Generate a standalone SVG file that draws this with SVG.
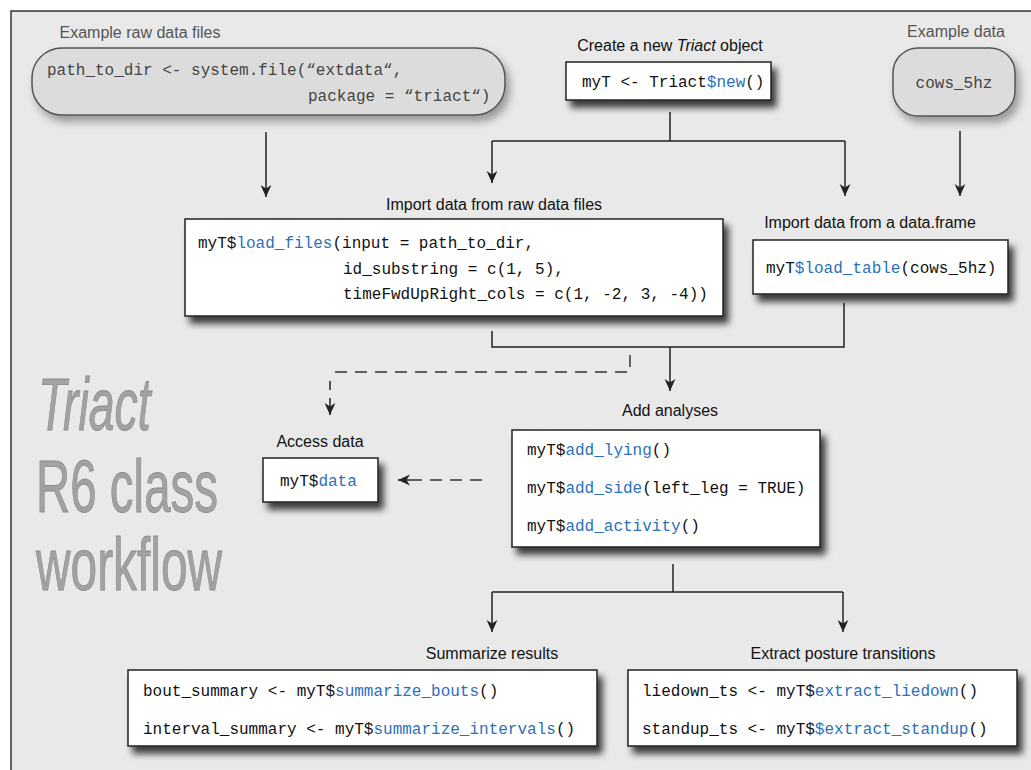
<svg xmlns="http://www.w3.org/2000/svg" width="1031" height="770" viewBox="0 0 1031 770">
<defs>
<style>
.lbl{font-family:"Liberation Sans",Arial,sans-serif;font-size:16px;fill:#111;text-anchor:middle}
.glbl{font-family:"Liberation Sans",Arial,sans-serif;font-size:16px;fill:#555;text-anchor:middle}
.code{font-family:"Liberation Mono","DejaVu Sans Mono",monospace;font-size:16px;fill:#111}
.gcode{font-family:"Liberation Mono","DejaVu Sans Mono",monospace;font-size:16px;fill:#444}
.fn{fill:#2b6fbd}
.box{fill:#fff;stroke:#222;stroke-width:1.5;filter:url(#sh)}
.rbox{fill:#dcdcdc;stroke:#555;stroke-width:1.5;filter:url(#sh2)}
.ln{fill:none;stroke:#222;stroke-width:1.5}
.dl{fill:none;stroke:#333;stroke-width:1.5;stroke-dasharray:12 8}
.big{font-family:"Liberation Sans",Arial,sans-serif;font-size:75px;fill:#a2a2a2;stroke:#8a8a8a;stroke-width:0.8}
</style>
<filter id="sh" x="-10%" y="-20%" width="130%" height="160%">
<feDropShadow dx="5" dy="7" stdDeviation="3.5" flood-color="#000" flood-opacity="0.75"/>
</filter>
<filter id="sh2" x="-10%" y="-20%" width="130%" height="160%">
<feDropShadow dx="4" dy="6" stdDeviation="4" flood-color="#000" flood-opacity="0.35"/>
</filter>
<marker id="ahs" viewBox="0 0 10 10" refX="10" refY="5" markerWidth="12" markerHeight="12" markerUnits="userSpaceOnUse" orient="auto">
<path d="M0,0.5 L10,5 L0,9.5 L3,5 Z" fill="#222"/>
</marker>
</defs>
<rect x="11" y="11" width="1040" height="780" fill="#e9e9e9" stroke="#333" stroke-width="1.5"/>

<g id="title">
<text class="big" transform="translate(38,430) scale(0.62,1)" x="0" y="0" font-style="italic">Triact</text>
<text class="big" transform="translate(36,512) scale(0.633,1)" x="0" y="0">R6 class</text>
<text class="big" transform="translate(36,590) scale(0.638,1)" x="0" y="0">workflow</text>
</g>

<g id="connectors">
<path class="ln" d="M266,132 V197" marker-end="url(#ahs)"/>
<path class="ln" d="M670,112 V141"/>
<path class="ln" d="M492,141 H845"/>
<path class="ln" d="M492,141 V183" marker-end="url(#ahs)"/>
<path class="ln" d="M845,141 V196" marker-end="url(#ahs)"/>
<path class="ln" d="M960,131 V196" marker-end="url(#ahs)"/>
<path class="ln" d="M492,331 V347 H844 V303"/>
<path class="ln" d="M670,347 V391" marker-end="url(#ahs)"/>
<path class="dl" d="M630,355 V372 H330"/>
<path class="ln" d="M330,381 V390"/>
<path class="ln" d="M330,398 V415" marker-end="url(#ahs)"/>
<path class="dl" d="M482,480 H410"/>
<path class="ln" d="M410,480 H398" marker-end="url(#ahs)"/>
<path class="ln" d="M673,564 V592"/>
<path class="ln" d="M492,592 H843"/>
<path class="ln" d="M492,592 V632" marker-end="url(#ahs)"/>
<path class="ln" d="M843,592 V632" marker-end="url(#ahs)"/>
</g>

<g id="raw-data">
<text class="glbl" x="140" y="38">Example raw data files</text>
<rect class="rbox" x="32" y="48" width="473" height="67" rx="30"/>
<text class="gcode" x="47" y="75">path_to_dir &lt;- system.file(“extdata“,</text>
<text class="gcode" x="308" y="101">package = “triact“)</text>
</g>

<g id="new-object">
<text class="lbl" x="670" y="51">Create a new <tspan font-style="italic">Triact</tspan> object</text>
<rect class="box" x="566" y="62" width="205" height="38"/>
<text class="code" x="582" y="87">myT &lt;- Triact<tspan class="fn">$new</tspan>()</text>
</g>

<g id="example-data">
<text class="glbl" x="956" y="37">Example data</text>
<rect class="rbox" x="893" y="48" width="122" height="68" rx="25"/>
<text class="gcode" x="954" y="88" text-anchor="middle">cows_5hz</text>
</g>

<g id="load-files">
<text class="lbl" x="494" y="210">Import data from raw data files</text>
<rect class="box" x="185" y="219" width="538" height="97"/>
<text class="code" x="198" y="248">myT$<tspan class="fn">load_files</tspan>(input = path_to_dir,</text>
<text class="code" x="343" y="274">id_substring = c(1, 5),</text>
<text class="code" x="343" y="299">timeFwdUpRight_cols = c(1, -2, 3, -4))</text>
</g>

<g id="load-table">
<text class="lbl" x="870" y="228">Import data from a data.frame</text>
<rect class="box" x="753" y="240" width="255" height="54"/>
<text class="code" x="766" y="273">myT<tspan class="fn">$load_table</tspan>(cows_5hz)</text>
</g>

<g id="access-data">
<text class="lbl" x="320" y="447">Access data</text>
<rect class="box" x="263" y="458" width="115" height="44"/>
<text class="code" x="280" y="486">myT$<tspan class="fn">data</tspan></text>
</g>

<g id="add-analyses">
<text class="lbl" x="670" y="416">Add analyses</text>
<rect class="box" x="512" y="430" width="308" height="117"/>
<text class="code" x="527" y="455">myT$<tspan class="fn">add_lying</tspan>()</text>
<text class="code" x="527" y="493">myT$<tspan class="fn">add_side</tspan>(left_leg = TRUE)</text>
<text class="code" x="527" y="531">myT$<tspan class="fn">add_activity</tspan>()</text>
</g>

<g id="summarize">
<text class="lbl" x="492" y="659">Summarize results</text>
<rect class="box" x="128" y="670" width="469" height="76"/>
<text class="code" x="143" y="696">bout_summary &lt;- myT$<tspan class="fn">summarize_bouts</tspan>()</text>
<text class="code" x="143" y="734">interval_summary &lt;- myT$<tspan class="fn">summarize_intervals</tspan>()</text>
</g>

<g id="extract">
<text class="lbl" x="843" y="659">Extract posture transitions</text>
<rect class="box" x="628" y="670" width="389" height="76"/>
<text class="code" x="642" y="696">liedown_ts &lt;- myT$<tspan class="fn">extract_liedown</tspan>()</text>
<text class="code" x="642" y="734">standup_ts &lt;- myT$<tspan class="fn">$extract_standup</tspan>()</text>
</g>
</svg>
